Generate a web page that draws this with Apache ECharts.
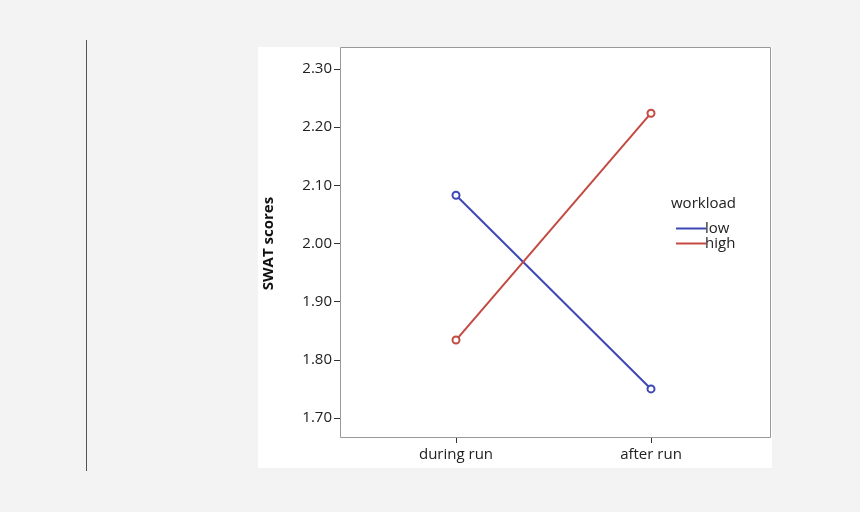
<!DOCTYPE html>
<html>
<head>
<meta charset="utf-8">
<script src="https://cdn.jsdelivr.net/npm/echarts@6/dist/echarts.min.js"></script>
<style>
  html, body { margin: 0; padding: 0; background: #f3f3f3; }
  #chart { width: 860px; height: 512px; }
</style>
</head>
<body>
<div id="chart"></div>
<script>
var categories = ['during run', 'after run'];
var lowValues = [2.083, 1.75];
var highValues = [1.834, 2.224];
var yMin = 1.7, yMax = 2.3, yStep = 0.1;

var chart = echarts.init(document.getElementById('chart'));
var font = '"Open Sans", "Liberation Sans", sans-serif';
var yCommon = { type: 'value', min: yMin, max: yMax, interval: yStep };

chart.setOption({
    backgroundColor: '#f3f3f3',
    animation: false,
    graphic: [
        { type: 'line', shape: { x1: 86.5, y1: 40, x2: 86.5, y2: 471 }, style: { stroke: '#555', lineWidth: 1 } },
        { type: 'rect', z: -10, shape: { x: 258, y: 47, width: 514, height: 421 }, style: { fill: '#fff' } },
        { type: 'rect', z: 10, shape: { x: 340.5, y: 47.5, width: 430, height: 390 }, style: { fill: 'none', stroke: '#999', lineWidth: 1 } },
        { type: 'text', left: 671, top: 196, style: { text: 'workload', font: '15px ' + font, fill: '#222' } }
    ],
    grid: [
        { left: 340, right: 90, top: 69, bottom: 94 },
        { left: 358.5, right: 111.5, top: 69, bottom: 94 }
    ],
    xAxis: [
        { type: 'category', gridIndex: 0, data: categories, show: false },
        {
            type: 'category', gridIndex: 1, data: categories, boundaryGap: true,
            position: 'bottom', offset: 19,
            axisLine: { show: false },
            axisTick: { show: true, alignWithLabel: true, length: 6, lineStyle: { color: '#333' } },
            axisLabel: { color: '#222', fontSize: 15, fontFamily: font, margin: 10 }
        }
    ],
    yAxis: [
        Object.assign({}, yCommon, {
            gridIndex: 0,
            name: 'SWAT scores', nameLocation: 'middle', nameGap: 64, nameRotate: 90,
            nameTextStyle: { color: '#111', fontSize: 15, fontWeight: 'bold', fontFamily: font },
            axisLine: { show: false },
            axisTick: { show: true, length: 6, lineStyle: { color: '#333' } },
            splitLine: { show: false },
            axisLabel: { color: '#222', fontSize: 15, fontFamily: font, margin: 8, formatter: function (v) { return v.toFixed(2); } }
        }),
        Object.assign({}, yCommon, { gridIndex: 1, show: false })
    ],
    legend: {
        orient: 'vertical', left: 671, top: 216, itemGap: 0,
        itemWidth: 30, itemHeight: 2, icon: 'rect',
        textStyle: { color: '#222', fontSize: 15, fontFamily: font, padding: [0, 0, 0, -6] },
        data: ['low', 'high']
    },
    series: [
        {
            name: 'low', type: 'line', xAxisIndex: 1, yAxisIndex: 1, data: lowValues,
            symbol: 'emptyCircle', symbolSize: 7, color: '#3d47b5',
            lineStyle: { width: 2 }
        },
        {
            name: 'high', type: 'line', xAxisIndex: 1, yAxisIndex: 1, data: highValues,
            symbol: 'emptyCircle', symbolSize: 7, color: '#c44a41',
            lineStyle: { width: 2 }
        }
    ]
});
</script>
</body>
</html>
